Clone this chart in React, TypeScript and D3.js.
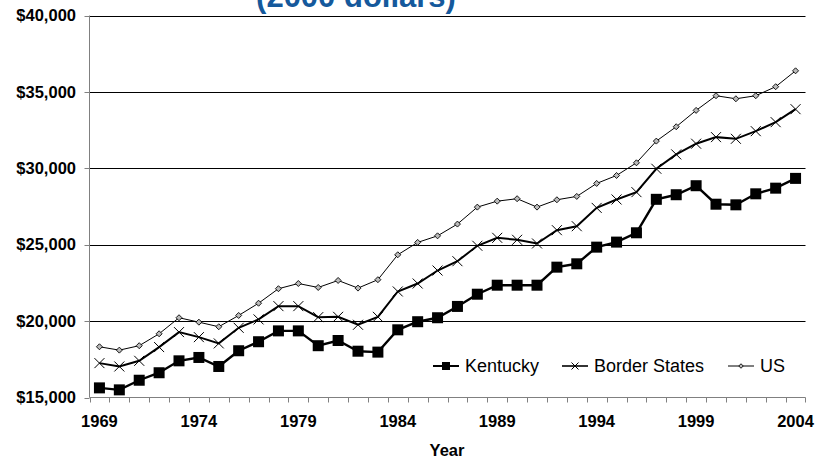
import React from 'react';
import * as d3 from 'd3';

const years = d3.range(1969, 2005).map(String);
const yearLabels = ['1969', '1974', '1979', '1984', '1989', '1994', '1999', '2004'];
const yTicks = [15000, 20000, 25000, 30000, 35000, 40000];

const kentucky = [
  15630, 15500, 16130, 16620, 17400, 17620, 17030, 18060, 18650, 19360,
  19360, 18390, 18730, 18030, 17970, 19430, 19960, 20220, 20960, 21760,
  22350, 22350, 22350, 23530, 23750, 24840, 25170, 25780, 27970, 28270,
  28860, 27650, 27610, 28330, 28700, 29340,
];
const borderStates = [
  17250, 17030, 17400, 18300, 19280, 18950, 18540, 19560, 20110, 20980,
  20980, 20260, 20280, 19760, 20280, 21940, 22460, 23310, 23920, 24930,
  25450, 25320, 25080, 25950, 26210, 27410, 27960, 28440, 29970, 30910,
  31610, 32040, 31930, 32430, 33020, 33870,
];
const us = [
  18320, 18100, 18390, 19170, 20220, 19930, 19630, 20370, 21170, 22120,
  22460, 22200, 22660, 22160, 22710, 24340, 25150, 25580, 26350, 27460,
  27850, 28010, 27460, 27940, 28160, 29010, 29530, 30360, 31780, 32720,
  33790, 34750, 34550, 34750, 35340, 36380,
];

const W = 821;
const H = 459;
const left = 89.5;
const right = 805.5;
const top = 15.5;
const bottom = 397.5;
const font = 'Arial, "Liberation Sans", sans-serif';

type Marker = 'square' | 'cross' | 'diamond';

function drawMarker(kind: Marker, x: number, y: number, s: number, key: string | number) {
  if (kind === 'square') {
    return <rect key={key} x={x - s / 2} y={y - s / 2} width={s} height={s} fill="#000" />;
  }
  if (kind === 'cross') {
    const h = s / 2;
    return (
      <path key={key} d={`M${x - h},${y - h}L${x + h},${y + h}M${x - h},${y + h}L${x + h},${y - h}`}
        stroke="#000" strokeWidth={1} fill="none" />
    );
  }
  const h = s / 2;
  return (
    <path key={key} d={`M${x},${y - h}L${x + h},${y}L${x},${y + h}L${x - h},${y}Z`}
      fill="#bbb" stroke="#000" strokeWidth={0.9} />
  );
}

const App: React.FC = () => {
  const x = d3.scaleBand<string>().domain(years).range([left, right]);
  const y = d3.scaleLinear().domain([15000, 40000]).range([bottom, top]);
  const cx = (d: string) => (x(d) ?? 0) + x.bandwidth() / 2;
  const fmt = (v: number) => '$' + d3.format(',')(v);

  const series = [
    { name: 'Kentucky', values: kentucky, marker: 'square' as Marker, size: 11, width: 2.4, legendSize: 8 },
    { name: 'Border States', values: borderStates, marker: 'cross' as Marker, size: 10, width: 2, legendSize: 7 },
    { name: 'US', values: us, marker: 'diamond' as Marker, size: 6, width: 1, legendSize: 4.5 },
  ];

  const legendX = [433, 562, 728];
  const legendY = 366;

  return (
    <svg width={W} height={H} style={{ position: 'absolute', left: 0, top: 0 }} fontFamily={font}>
      <rect width={W} height={H} fill="#fff" />
      <text x={356} y={7} textAnchor="middle" fontSize={31} fontWeight="bold" fill="#15599c">
        (2000 dollars)
      </text>

      {/* gridlines */}
      {yTicks.filter(t => t > 15000).map(t => (
        <line key={t} x1={left} x2={right} y1={Math.round(y(t)) + 0.5} y2={Math.round(y(t)) + 0.5}
          stroke="#000" strokeWidth={1} />
      ))}

      {/* axes */}
      <line x1={left} x2={left} y1={top} y2={bottom} stroke="#808080" />
      <line x1={left} x2={right} y1={bottom} y2={bottom} stroke="#808080" />
      {yTicks.map(t => (
        <g key={t}>
          <line x1={left - 5} x2={left} y1={Math.round(y(t)) + 0.5} y2={Math.round(y(t)) + 0.5} stroke="#808080" />
          <text x={76} y={y(t)} dy="0.35em" textAnchor="end" fontSize={16.5} fontWeight="bold">
            {fmt(t)}
          </text>
        </g>
      ))}
      {years.map(d => (
        <line key={d} x1={Math.round(x(d) ?? 0) + 0.5} x2={Math.round(x(d) ?? 0) + 0.5}
          y1={bottom} y2={bottom + 5} stroke="#808080" />
      ))}
      <line x1={right} x2={right} y1={bottom} y2={bottom + 5} stroke="#808080" />
      {yearLabels.map(d => (
        <text key={d} x={cx(d)} y={427} textAnchor="middle" fontSize={16.5} fontWeight="bold">
          {d}
        </text>
      ))}
      <text x={447} y={456} textAnchor="middle" fontSize={16.5} fontWeight="bold">Year</text>

      {/* series */}
      {series.map(s => {
        const line = d3.line<number>().x((_, i) => cx(years[i])).y(v => y(v));
        return (
          <g key={s.name}>
            <path d={line(s.values) ?? ''} fill="none" stroke="#000" strokeWidth={s.width} />
            {s.values.map((v, i) => drawMarker(s.marker, cx(years[i]), y(v), s.size, i))}
          </g>
        );
      })}

      {/* legend */}
      {series.map((s, i) => (
        <g key={s.name}>
          <line x1={legendX[i]} x2={legendX[i] + 26} y1={legendY} y2={legendY} stroke="#000"
            strokeWidth={Math.max(1, s.width - 0.4)} />
          {drawMarker(s.marker, legendX[i] + 13, legendY, s.legendSize, 'm')}
          <text x={legendX[i] + 32} y={legendY} dy="0.35em" fontSize={18}>{s.name}</text>
        </g>
      ))}
    </svg>
  );
};

export default App;
